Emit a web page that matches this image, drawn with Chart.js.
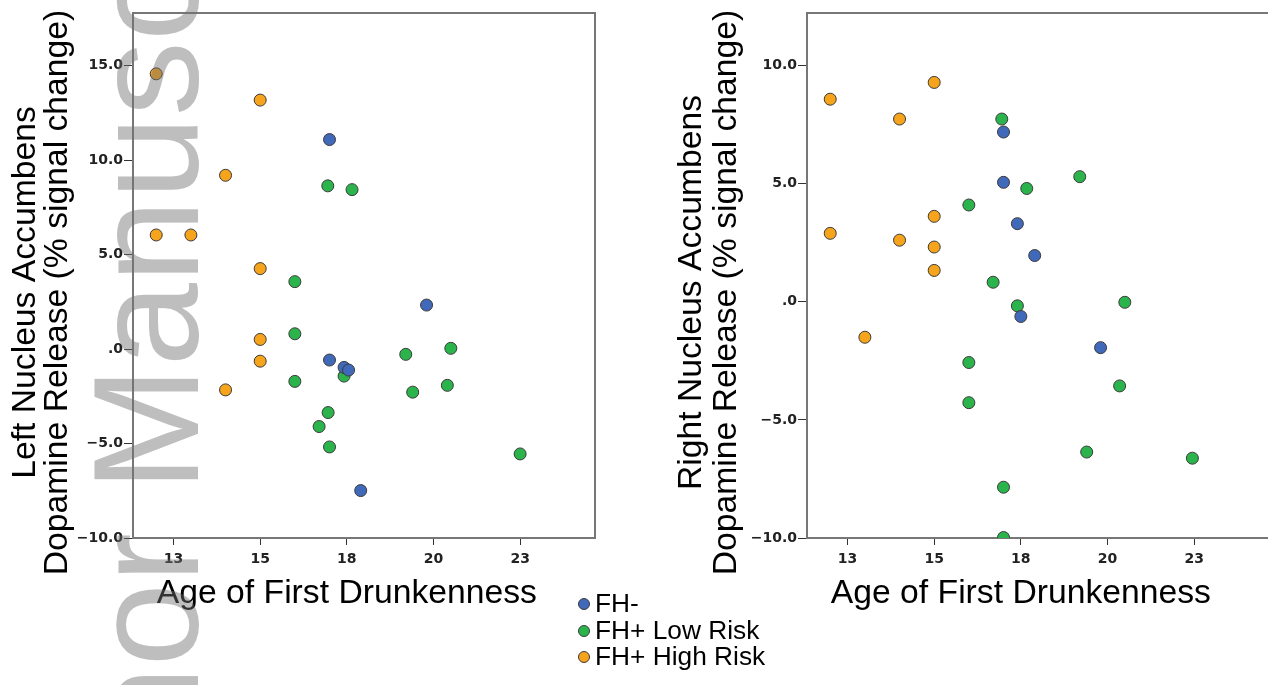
<!DOCTYPE html>
<html>
<head>
<meta charset="utf-8">
<script src="https://cdn.jsdelivr.net/npm/chart.js@4.4.1/dist/chart.umd.min.js"></script>
<style>
html,body{margin:0;padding:0;background:#fff;overflow:hidden;}
#wrap{position:relative;width:1268px;height:685px;overflow:hidden;background:#fff;}
#c1{position:absolute;left:0;top:0;}
#c2{position:absolute;left:640px;top:0;}
#legend{position:absolute;left:578px;top:590px;font-family:'Liberation Sans',Arial,sans-serif;font-size:26.3px;line-height:26.7px;color:#000;white-space:nowrap;}
#legend .dot{display:inline-block;width:10px;height:10px;border-radius:50%;border:1px solid #3a3a3a;vertical-align:middle;margin-right:5px;position:relative;top:-1px;}
#wm{position:absolute;left:71px;top:975px;transform:rotate(-90deg);transform-origin:0 0;font-family:'Liberation Sans',Arial,sans-serif;font-size:150px;line-height:150px;white-space:nowrap;color:rgba(110,110,110,0.45);pointer-events:none;}
</style>
</head>
<body>
<div id="wrap">
  <canvas id="c1" width="640" height="685"></canvas>
  <canvas id="c2" width="640" height="685"></canvas>
  <div id="legend"></div>
  <div id="wm">Author Manuscript</div>
</div>
<script>
// ---- Data ----
const groupLabels = ['FH-', 'FH+ Low Risk', 'FH+ High Risk'];
const groupColors = ['#4169b9', '#2bb44c', '#f7a41d'];

const xTitle = 'Age of First Drunkenness';
const leftYTitle = ['Left Nucleus Accumbens', 'Dopamine Release (% signal change)'];
const rightYTitle = ['Right Nucleus Accumbens', 'Dopamine Release (% signal change)'];

// Left nucleus accumbens
const leftFHminusAge = [17.0, 19.8, 17.0, 17.42, 17.55, 17.9];
const leftFHminusDA  = [11.09, 2.33, -0.58, -0.97, -1.11, -7.49];
const leftLowAge = [16.95, 17.65, 16.0, 16.0, 19.2, 20.5, 17.42, 16.0, 19.4, 20.4, 16.96, 16.7, 17.0, 22.5];
const leftLowDA  = [8.64, 8.44, 3.57, 0.81, -0.28, 0.04, -1.43, -1.71, -2.28, -1.92, -3.36, -4.1, -5.18, -5.55];
const leftHighAge = [12.0, 15.0, 14.0, 12.0, 13.0, 15.0, 15.0, 15.0, 14.0];
const leftHighDA  = [14.57, 13.18, 9.2, 6.04, 6.04, 4.26, 0.51, -0.64, -2.16];

// Right nucleus accumbens
const rightFHminusAge = [17.0, 17.0, 17.4, 17.9, 17.5, 19.8];
const rightFHminusDA  = [7.19, 5.06, 3.31, 1.96, -0.62, -1.94];
const rightLowAge = [16.95, 19.2, 17.67, 16.0, 16.7, 17.4, 20.5, 16.0, 16.0, 20.35, 19.4, 22.45, 17.0, 17.0];
const rightLowDA  = [7.74, 5.3, 4.8, 4.1, 0.83, -0.17, -0.02, -2.57, -4.27, -3.56, -6.36, -6.62, -7.85, -9.98];
const rightHighAge = [12.0, 15.0, 14.0, 12.0, 14.0, 15.0, 15.0, 15.0, 13.0];
const rightHighDA  = [8.58, 9.29, 7.74, 2.9, 2.61, 3.62, 2.32, 1.33, -1.5];

// Axis ranges / ticks
const xMin = 11.33, xMax = 24.66, xStep = 2.5;
const leftYMin = -10, leftYMax = 17.79;
const rightYMin = -10, rightYMax = 12.23;
const yStep = 5;

// ---- helpers ----
function pts(xs, ys) { return xs.map((x, i) => ({x: x, y: ys[i]})); }
function ds(label, color, xs, ys) {
  return {
    label: label, data: pts(xs, ys),
    backgroundColor: color, borderColor: '#3a3a3a', borderWidth: 1,
    pointRadius: 6, pointHoverRadius: 6
  };
}

const tickFont = {family: "'DejaVu Sans', Verdana, sans-serif", size: 14, weight: 'bold'};
const titleFont = "33.7px 'Liberation Sans', Arial, sans-serif";

const framePlugin = {
  id: 'frame',
  beforeDatasetsDraw(chart) {
    const {ctx, chartArea: a} = chart;
    ctx.save();
    ctx.strokeStyle = '#777';
    ctx.lineWidth = 2;
    ctx.strokeRect(a.left, a.top, a.right - a.left, a.bottom - a.top);
    ctx.restore();
  }
};

const titlesPlugin = {
  id: 'axisTitles',
  afterDraw(chart, args, opts) {
    const ctx = chart.ctx;
    const xs = chart.scales.x;
    ctx.save();
    ctx.fillStyle = '#000';
    ctx.font = titleFont;
    ctx.textAlign = 'center';
    ctx.textBaseline = 'alphabetic';
    ctx.fillText(opts.xTitle, xs.getPixelForValue(opts.xTitleCenter), opts.xBaseline);
    opts.yLines.forEach((line, i) => {
      ctx.save();
      ctx.translate(opts.yBaselines[i], opts.yCenter);
      ctx.rotate(-Math.PI / 2);
      ctx.fillText(line, 0, 0);
      ctx.restore();
    });
    ctx.restore();
  }
};

function yLabel(v) {
  if (v === 0) return '.0';
  return (v < 0 ? '\u2212' : '') + Math.abs(v).toFixed(1);
}

function makeChart(canvasId, datasets, yMin, yMax, yAxisWidth, rightPad, yTitle, yBaselines) {
  return new Chart(document.getElementById(canvasId), {
    type: 'scatter',
    data: {datasets: datasets},
    plugins: [framePlugin, titlesPlugin],
    options: {
      responsive: false,
      animation: false,
      events: [],
      layout: {padding: {left: 0, top: 13, right: rightPad, bottom: 685 - 538 - 40}},
      scales: {
        x: {
          type: 'linear', position: 'bottom', min: xMin, max: xMax,
          afterFit: s => { s.height = 40; },
          ticks: {
            stepSize: xStep, includeBounds: false, autoSkip: false, maxRotation: 0,
            callback: v => String(Math.round(v)),
            font: tickFont, color: '#222', padding: 6
          },
          grid: {drawOnChartArea: false, drawTicks: true, tickLength: 7, color: '#333', lineWidth: 1},
          border: {display: false}
        },
        y: {
          type: 'linear', position: 'left', min: yMin, max: yMax,
          afterFit: s => { s.width = yAxisWidth; },
          ticks: {
            stepSize: yStep, includeBounds: false, autoSkip: false,
            callback: v => yLabel(v),
            font: tickFont, color: '#222', padding: 1
          },
          grid: {drawOnChartArea: false, drawTicks: true, tickLength: 9, color: '#333', lineWidth: 1},
          border: {display: false}
        }
      },
      plugins: {
        legend: {display: false},
        tooltip: {enabled: false},
        axisTitles: {
          xTitle: xTitle, xTitleCenter: 17.5, xBaseline: 603,
          yLines: yTitle, yBaselines: yBaselines, yCenter: 292.5
        }
      }
    }
  });
}

makeChart('c1', [
  ds(groupLabels[0], groupColors[0], leftFHminusAge, leftFHminusDA),
  ds(groupLabels[1], groupColors[1], leftLowAge, leftLowDA),
  ds(groupLabels[2], groupColors[2], leftHighAge, leftHighDA)
], leftYMin, leftYMax, 133, 45, leftYTitle, [35, 67]);

makeChart('c2', [
  ds(groupLabels[0], groupColors[0], rightFHminusAge, rightFHminusDA),
  ds(groupLabels[1], groupColors[1], rightLowAge, rightLowDA),
  ds(groupLabels[2], groupColors[2], rightHighAge, rightHighDA)
], rightYMin, rightYMax, 167, 11, rightYTitle, [61, 96]);

// HTML legend built from the group arrays
const legend = document.getElementById('legend');
groupLabels.forEach((lab, i) => {
  const row = document.createElement('div');
  const dot = document.createElement('span');
  dot.className = 'dot';
  dot.style.background = groupColors[i];
  row.appendChild(dot);
  row.appendChild(document.createTextNode(lab));
  legend.appendChild(row);
});
</script>
</body>
</html>
